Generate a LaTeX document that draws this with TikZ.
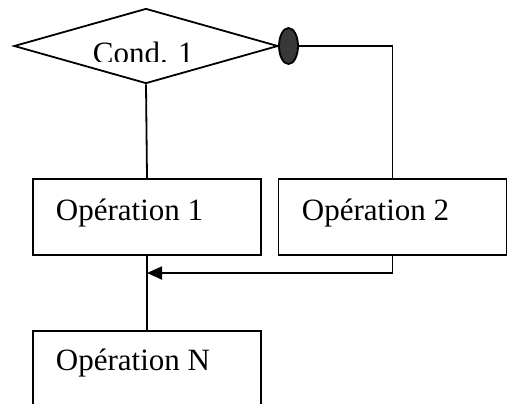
\documentclass[tikz,border=0pt]{standalone}
\usepackage{fontspec}
\setmainfont{Liberation Serif}
\usetikzlibrary{arrows.meta, shapes.geometric}

\begin{document}
\begin{tikzpicture}[x=0.5pt, y=-0.5pt, line width=0.9pt,
    opbox/.style={draw, rectangle, minimum width=114pt, minimum height=38pt, inner sep=0pt},
    optext/.style={anchor=base west, inner sep=0pt, font=\fontsize{15.5}{18}\selectfont}]
    % Frame of the picture
    \clip (0,0) rectangle (507,403);

    % Decision and its branch mark
    \node[diamond, draw, inner sep=0pt, minimum width=132pt, minimum height=37.5pt] (cond) at (146,46) {};
    \node[ellipse, draw, fill=black!78, inner sep=0pt, minimum width=9.5pt, minimum height=18pt] (mark) at (288.5,46) {};
    \begin{scope}
        \clip (80,20) rectangle (200,61);
        \node[optext] (condtxt) at (92,63.5) {Cond. 1};
    \end{scope}

    % Operations
    \node[opbox] (op1) at (147,217) {};
    \node[opbox] (op2) at (392.5,217) {};
    \node[opbox] (opN) at (147,369) {};
    \node[optext] (op1txt) at (55,220) {Opération 1};
    \node[optext] (op2txt) at (301,220) {Opération 2};
    \node[optext] (opNtxt) at (55,370) {Opération N};

    % Connectors
    \draw (cond.south) -- (op1.north);
    \draw (mark.east) -- (op2.north |- mark.east) -- (op2.north);
    \draw (op1.south) -- (opN.north);
    \coordinate (join) at (147,273);
    \draw[-{Triangle[length=7.5pt, width=6.5pt]}] (op2.south) |- (join);
\end{tikzpicture}
\end{document}
